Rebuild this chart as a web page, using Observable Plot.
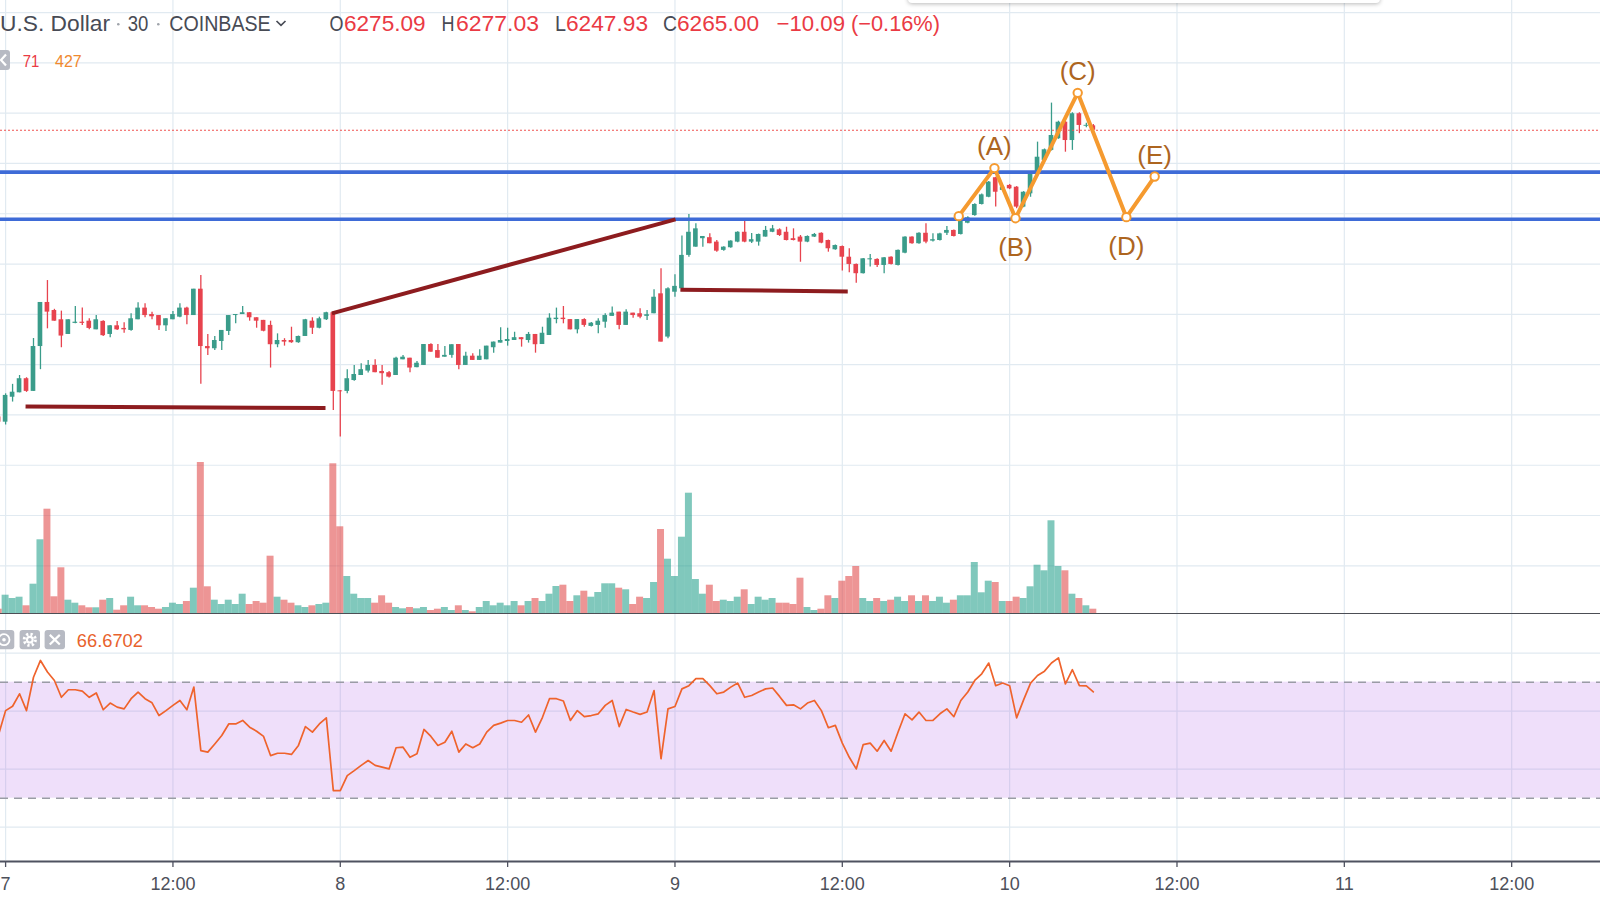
<!DOCTYPE html>
<html>
<head>
<meta charset="utf-8">
<script src="https://cdn.jsdelivr.net/npm/d3@7"></script>
<script src="https://cdn.jsdelivr.net/npm/@observablehq/plot@0.6"></script>
<style>
html,body{margin:0;padding:0;background:#fff;overflow:hidden;}
#wrap{position:relative;width:1600px;height:900px;overflow:hidden;background:#fff;font-family:"Liberation Sans",Arial,sans-serif;}
#wrap > svg, #wrap > div{position:absolute;left:0;}
</style>
</head>
<body>
<div id="wrap"></div>
<script>
// ---------------- DATA ----------------
const startTime = "2018-09-07T00:00:00Z";   // the "7" tick
const firstCandleHour = -0.5;                // first candle (partly off-screen)
const candleStepHours = 0.5;                 // 30-minute candles

const opens = [6124.0,
 6121.4,6133.8,6136.0,6143.0,6136.7,6159.0,6180.9,6176.9,6172.3,6165.0,
 6170.5,6171.1,6171.6,6167.3,6171.5,6165.0,6169.3,6168.0,6167.0,6172.3,
 6178.1,6174.9,6174.4,6169.3,6172.3,6173.6,6178.1,6174.4,6187.5,6159.0,
 6157.9,6161.5,6166.5,6174.4,6174.9,6175.8,6173.3,6172.0,6169.5,6159.9,
 6162.0,6162.0,6160.9,6164.0,6171.6,6168.1,6172.3,6175.8,6136.8,6136.7,
 6142.1,6144.6,6146.8,6149.6,6146.6,6146.0,6144.6,6152.4,6153.2,6148.5,
 6149.6,6160.0,6157.0,6153.7,6154.6,6160.0,6149.6,6154.2,6152.1,6152.4,
 6158.4,6160.7,6161.5,6162.0,6163.4,6162.0,6165.0,6160.0,6164.5,6172.4,
 6173.1,6172.4,6167.3,6172.4,6169.0,6169.5,6171.1,6174.0,6176.1,6169.5,
 6175.6,6175.3,6174.0,6175.3,6185.2,6163.7,6186.0,6187.7,6204.3,6208.4,
 6212.6,6213.1,6210.9,6206.8,6208.1,6210.9,6215.8,6210.9,6210.9,6213.4,
 6215.8,6217.0,6215.8,6212.6,6213.4,6210.9,6213.4,6215.3,6211.7,6207.1,
 6208.7,6203.4,6199.8,6195.2,6202.1,6202.3,6199.3,6203.4,6199.3,6205.4,
 6213.4,6210.1,6215.3,6211.4,6211.7,6215.3,6216.7,6214.7,6220.3,6224.1,
 6229.6,6233.2,6242.9,6236.6,6239.1,6238.2,6228.3,6234.9,6244.9,6251.5,
 6256.5,6262.3,6270.5,6261.4,6274.7,6268.5,6268.7];
const highs = [6126.0,
 6135.5,6140.2,6144.6,6143.5,6163.0,6180.9,6191.8,6177.5,6176.6,6172.3,
 6178.9,6178.1,6172.8,6174.4,6171.8,6169.5,6171.5,6170.8,6175.3,6180.8,
 6180.3,6176.1,6174.4,6172.8,6176.4,6180.3,6178.5,6187.5,6194.3,6165.0,
 6164.0,6167.0,6174.4,6174.9,6178.9,6175.8,6173.3,6172.0,6171.6,6165.3,
 6162.9,6168.6,6164.2,6172.5,6173.3,6173.6,6176.1,6176.1,6137.2,6147.5,
 6149.6,6150.4,6152.1,6152.4,6149.6,6146.6,6153.7,6154.6,6153.2,6151.6,
 6160.0,6160.4,6160.0,6159.0,6159.9,6160.0,6156.2,6155.4,6157.4,6159.2,
 6161.2,6168.3,6168.1,6166.1,6163.4,6166.0,6165.0,6168.6,6175.3,6178.1,
 6178.9,6172.4,6172.4,6172.8,6171.0,6172.8,6175.3,6178.6,6176.1,6177.3,
 6175.6,6177.8,6176.9,6187.2,6197.7,6188.2,6194.7,6214.0,6224.6,6220.0,
 6213.7,6215.0,6211.7,6208.6,6211.6,6216.0,6221.3,6215.2,6214.9,6218.7,
 6219.2,6217.5,6218.3,6217.5,6214.2,6214.0,6215.2,6215.5,6211.9,6209.5,
 6209.0,6207.6,6200.0,6202.8,6204.8,6202.6,6203.3,6203.6,6207.0,6213.6,
 6213.6,6215.6,6220.0,6215.0,6215.3,6218.7,6216.9,6222.3,6223.5,6230.0,
 6234.8,6241.0,6243.2,6239.0,6239.5,6238.5,6236.0,6245.2,6260.6,6257.2,
 6280.0,6271.0,6271.0,6275.2,6275.2,6270.0,6269.4];
const lows = [6119.0,
 6120.0,6131.4,6136.0,6136.2,6136.7,6147.5,6167.8,6171.6,6158.4,6165.0,
 6170.3,6169.5,6167.3,6167.3,6164.0,6163.4,6167.0,6165.6,6166.6,6172.3,
 6173.3,6172.3,6167.0,6166.5,6172.3,6173.3,6169.8,6174.4,6140.2,6154.6,
 6157.0,6157.0,6164.5,6170.3,6174.9,6171.6,6168.1,6166.3,6148.3,6158.4,
 6159.2,6160.6,6160.6,6164.0,6165.0,6167.8,6172.0,6127.2,6114.0,6135.5,
 6141.8,6144.6,6145.8,6146.0,6139.7,6143.3,6144.6,6152.4,6146.0,6148.5,
 6149.6,6156.2,6153.2,6153.7,6153.2,6147.5,6149.6,6152.1,6152.1,6152.4,
 6155.7,6160.7,6159.2,6162.0,6158.7,6160.7,6155.7,6160.0,6164.5,6170.3,
 6170.3,6167.3,6165.3,6168.6,6168.7,6165.3,6168.1,6174.0,6167.3,6169.5,
 6173.1,6172.8,6172.0,6175.3,6161.2,6162.9,6183.5,6187.7,6203.4,6208.4,
 6208.4,6210.1,6205.9,6206.4,6207.8,6210.6,6210.6,6210.2,6208.9,6213.4,
 6215.6,6213.7,6211.5,6211.5,6200.9,6210.6,6213.2,6210.1,6205.9,6206.9,
 6196.5,6195.7,6190.5,6195.0,6198.5,6198.3,6195.2,6199.5,6199.0,6205.1,
 6209.8,6209.8,6210.1,6210.9,6211.5,6214.2,6213.4,6214.5,6220.0,6223.8,
 6229.3,6232.9,6228.3,6236.0,6237.0,6227.5,6228.0,6233.2,6244.6,6251.2,
 6256.2,6262.0,6255.6,6256.5,6264.8,6267.7,6265.9];
const closes = [6121.4,
 6134.7,6136.3,6143.0,6136.7,6159.0,6180.9,6176.1,6171.6,6164.2,6172.3,
 6171.1,6170.5,6168.0,6172.3,6164.4,6169.3,6167.3,6167.3,6172.8,6178.1,
 6174.4,6173.8,6169.3,6172.8,6174.9,6178.1,6174.4,6187.5,6159.0,6157.9,
 6162.0,6167.0,6174.4,6174.9,6175.8,6173.3,6171.6,6166.6,6159.9,6162.0,
 6161.2,6160.9,6164.0,6172.3,6168.1,6172.8,6175.8,6136.7,6136.5,6143.0,
 6145.1,6147.5,6149.6,6146.0,6145.5,6143.8,6153.2,6153.7,6148.3,6150.7,
 6160.0,6156.2,6153.2,6154.6,6159.9,6149.6,6154.2,6152.1,6154.2,6159.2,
 6161.2,6162.0,6162.5,6163.4,6162.4,6165.0,6159.9,6165.6,6173.1,6173.1,
 6172.4,6167.3,6172.4,6169.5,6170.6,6171.6,6174.4,6175.6,6169.5,6176.1,
 6174.4,6173.6,6174.8,6183.5,6161.2,6187.7,6188.9,6204.3,6215.8,6217.5,
 6213.7,6210.1,6206.4,6208.4,6211.4,6215.8,6210.9,6212.1,6214.7,6216.7,
 6217.5,6214.2,6211.7,6211.7,6210.9,6213.7,6214.7,6210.4,6207.6,6209.2,
 6203.4,6199.8,6195.2,6202.6,6202.6,6199.3,6203.1,6199.8,6206.8,6213.4,
 6210.1,6215.3,6210.9,6212.1,6215.0,6216.7,6213.7,6222.0,6223.0,6229.6,
 6234.4,6240.7,6235.7,6238.2,6237.4,6228.3,6235.7,6244.9,6253.1,6256.8,
 6263.9,6270.5,6261.4,6274.7,6268.9,6268.9,6266.5];
const volumes = [43,
 183,150,163,77,293,737,1043,167,457,133,
 103,77,57,57,133,150,33,77,163,77,
 77,60,43,60,103,90,120,253,1510,267,
 133,90,133,90,193,90,120,103,573,163,
 133,103,77,60,77,90,103,1497,867,370,
 193,150,150,103,177,103,60,47,60,47,
 60,30,43,60,30,77,30,17,60,120,
 77,103,77,120,77,120,150,120,193,270,
 283,120,177,223,163,210,297,297,253,237,
 90,163,150,310,840,543,370,763,1203,340,
 193,283,120,133,120,163,237,90,163,133,
 150,103,103,90,353,60,30,43,177,150,
 323,370,470,150,120,150,120,133,163,120,
 177,120,177,120,163,103,133,177,177,510,
 207,323,310,120,120,163,150,267,483,427,
 927,470,427,193,150,77,43];
const rsiValues = [52.0,
 60.2,61.7,66.0,60.2,71.7,77.5,73.5,70.6,64.8,67.4,
 67.4,66.9,64.8,66.3,60.5,62.8,61.4,60.8,64.3,66.6,
 64.3,62.9,58.5,60.2,62.0,63.7,60.5,68.3,46.4,45.9,
 48.7,51.6,55.6,55.6,56.8,54.5,53.1,51.3,44.7,45.5,
 45.5,45.1,48.2,54.7,52.8,55.6,57.7,32.6,32.6,37.8,
 39.5,41.3,43.0,41.3,40.7,40.1,47.4,47.6,44.1,45.3,
 53.7,51.3,48.2,49.3,53.1,45.9,48.7,47.4,48.7,52.8,
 55.1,55.9,56.8,56.8,56.2,58.7,52.8,57.9,64.3,64.3,
 63.5,56.8,60.2,58.1,58.5,59.1,62.0,63.7,54.7,60.6,
 59.7,58.9,59.7,67.1,43.6,60.8,61.6,67.7,68.8,71.2,
 71.2,68.8,66.0,66.6,68.3,69.7,64.8,65.4,66.6,67.7,
 68.0,65.1,62.0,62.2,60.8,62.8,63.7,60.2,54.3,55.1,
 49.0,44.1,40.1,48.5,49.0,46.2,49.9,46.2,52.8,59.1,
 57.0,59.7,56.8,56.8,59.1,60.8,58.1,63.7,66.6,70.6,
 72.9,76.6,68.8,69.7,68.8,57.7,63.9,69.7,72.3,73.8,
 76.6,78.4,69.4,74.3,68.8,68.7,66.67];

// horizontal drawings
const levelPrices = [6245.7, 6222.3];           // blue lines
const trendStartHours = [1.43, 23.40, 48.39];    // dark red lines
const trendStartPrices = [6129.2, 6175.5, 6187.2];
const trendEndHours = [22.94, 48.04, 60.39];
const trendEndPrices = [6128.4, 6222.2, 6186.4];
// orange ABCDE pattern
const patternHours = [68.35, 70.91, 72.42, 76.88, 80.37, 82.40];
const patternPrices = [6223.8, 6247.7, 6222.8, 6285.1, 6223.3, 6243.5];
const patternLabels = ["", "(A)", "(B)", "(C)", "(D)", "(E)"];
const patternLabelSide = ["", "above", "below", "above", "below", "above"];
// scales / ticks
const priceGrid = [6050, 6075, 6100, 6125, 6150, 6175, 6200, 6225, 6250, 6275, 6300, 6325];
const rsiGrid = [20, 40, 60, 80];
const rsiBand = [30, 70];
const timeTickHours = [0, 12, 24, 36, 48, 60, 72, 84, 96, 108];
const viewHours = [-0.366, 114.37];
const priceDomain = [6026.3, 6331];
const volumeDomain = [0, 6130];
const rsiDomain = [8.52, 93.34];

// ---------------- STYLE ----------------
const FONT = "Liberation Sans, Arial, sans-serif";
const GRID = "#e1eaf1";
const UP = "#3a9c8a", DOWN = "#e7434e";
const VUP = "#24a08c", VDOWN = "#e04848";
const BLUE = "#3e6bd7", DARKRED = "#8d1c1f", ORANGE = "#f59a2f", LABEL = "#ad651f";
const RSI = "#ef632c", BAND = "#b061e8", DASH = "#9a9ca5", AXIS = "#4f5260";
const W = 1600;

// ---------------- BUILD ----------------
const t0 = new Date(startTime).getTime();
const at = h => new Date(t0 + h * 3600e3);
const xScale = {type: "utc", domain: viewHours.map(at), axis: null};
const candles = opens.map((o, i) => {
  const h = firstCandleHour + i * candleStepHours;
  return {h, t: at(h), o, hi: highs[i], lo: lows[i], c: closes[i], v: volumes[i], r: rsiValues[i], up: closes[i] >= o};
});
const upC = candles.filter(d => d.up), dnC = candles.filter(d => !d.up);
const bodyHalf = 10 / 60, volHalf = 0.25;
const bLo = d => Math.min(d.o, d.c);
const bHi = d => Math.max(d.o, d.c, Math.min(d.o, d.c) + 0.45);
const tickDates = timeTickHours.map(at);
const trendRows = trendStartHours.map((h, i) => ({x1: at(h), y1: trendStartPrices[i], x2: at(trendEndHours[i]), y2: trendEndPrices[i]}));
const pattern = patternHours.map((h, i) => ({t: at(h), p: patternPrices[i], label: patternLabels[i], side: patternLabelSide[i]}));
const lastClose = closes[closes.length - 1];

const wrap = document.getElementById("wrap");
function place(el, top) { el.style.top = top + "px"; el.style.position = "absolute"; el.style.left = "0px"; wrap.appendChild(el); }

const candleMarks = (data, color) => [
  Plot.ruleX(data, {x: "t", y1: "lo", y2: "hi", stroke: color, strokeWidth: 1.3}),
  Plot.rect(data, {x1: d => at(d.h - bodyHalf), x2: d => at(d.h + bodyHalf), y1: bLo, y2: bHi, fill: color})
];

const pricePlot = Plot.plot({
  width: W, height: 613, marginTop: 0, marginRight: 0, marginBottom: 0, marginLeft: 0,
  x: xScale, y: {domain: priceDomain, axis: null},
  style: {background: "#fff", overflow: "visible", fontFamily: FONT},
  marks: [
    Plot.ruleY(priceGrid, {stroke: GRID, strokeWidth: 1.2}),
    Plot.ruleX(tickDates, {stroke: GRID, strokeWidth: 1.2}),
    ...candleMarks(upC, UP),
    ...candleMarks(dnC, DOWN),
    Plot.ruleY([lastClose], {stroke: "#ef5350", strokeWidth: 1, strokeDasharray: "2,2"}),
    Plot.ruleY(levelPrices, {stroke: BLUE, strokeWidth: 3.6}),
    Plot.link(trendRows, {x1: "x1", y1: "y1", x2: "x2", y2: "y2", stroke: DARKRED, strokeWidth: 4}),
    Plot.line(pattern, {x: "t", y: "p", stroke: ORANGE, strokeWidth: 4}),
    Plot.dot(pattern, {x: "t", y: "p", r: 4.2, fill: "#fff", stroke: ORANGE, strokeWidth: 2}),
    Plot.text(pattern.filter(d => d.side === "above"), {x: "t", y: "p", text: "label", dy: -21, fill: LABEL, fontSize: 26, fontFamily: FONT}),
    Plot.text(pattern.filter(d => d.side === "below"), {x: "t", y: "p", text: "label", dy: 29.5, fill: LABEL, fontSize: 26, fontFamily: FONT})
  ]
});
place(pricePlot, 0);

const volPlot = Plot.plot({
  width: W, height: 613, marginTop: 0, marginRight: 0, marginBottom: 0, marginLeft: 0,
  x: xScale, y: {domain: volumeDomain, axis: null},
  style: {background: "transparent", overflow: "visible"},
  marks: [
    Plot.rect(upC, {x1: d => at(d.h - volHalf), x2: d => at(d.h + volHalf), y1: 0, y2: "v", fill: VUP, fillOpacity: 0.58}),
    Plot.rect(dnC, {x1: d => at(d.h - volHalf), x2: d => at(d.h + volHalf), y1: 0, y2: "v", fill: VDOWN, fillOpacity: 0.58})
  ]
});
place(volPlot, 0);

const sep = document.createElement("div");
sep.style.cssText = "width:1600px;height:1.6px;background:#4c4e55;";
place(sep, 612.6);

const rsiPlot = Plot.plot({
  width: W, height: 246, marginTop: 0, marginRight: 0, marginBottom: 0, marginLeft: 0,
  x: xScale, y: {domain: rsiDomain, axis: null},
  style: {background: "transparent", overflow: "visible"},
  marks: [
    Plot.ruleY(rsiGrid, {stroke: GRID, strokeWidth: 1.2}),
    Plot.ruleX(tickDates, {stroke: GRID, strokeWidth: 1.2}),
    Plot.rect([rsiBand], {x1: () => at(viewHours[0]), x2: () => at(viewHours[1]), y1: d => d[0], y2: d => d[1], fill: BAND, fillOpacity: 0.2}),
    Plot.ruleY(rsiBand, {stroke: DASH, strokeWidth: 1.4, strokeDasharray: "8,6"}),
    Plot.line(candles, {x: "t", y: "r", stroke: RSI, strokeWidth: 1.7})
  ]
});
place(rsiPlot, 614);

const axisPlot = Plot.plot({
  width: W, height: 40, marginTop: 0, marginRight: 0, marginBottom: 0, marginLeft: 0,
  x: xScale, y: {domain: [0, 40], range: [0, 40], axis: null},
  style: {background: "transparent", overflow: "visible", fontFamily: FONT},
  marks: [
    Plot.ruleY([1], {stroke: AXIS, strokeWidth: 2}),
    Plot.ruleX(tickDates, {y1: 1, y2: 7, stroke: AXIS, strokeWidth: 1.3}),
    Plot.text(tickDates, {x: d => d, y: 23.5, text: d => d.getUTCHours() === 0 ? String(d.getUTCDate()) : "12:00",
      fill: "#4d505a", fontSize: 18, fontFamily: FONT})
  ]
});
place(axisPlot, 860);

// toolbar shadow at the top edge
const bar = document.createElement("div");
bar.style.cssText = "width:472px;height:22px;background:#fff;border-radius:4px;box-shadow:0 1px 4px rgba(0,0,0,0.28);";
wrap.appendChild(bar); bar.style.position = "absolute"; bar.style.top = "-19px"; bar.style.left = "908px";

// header / legend text overlay
const RED = "#ea3a44";
const DARK = "#484b55";
const ns = "http://www.w3.org/2000/svg";
const ov = document.createElementNS(ns, "svg");
ov.setAttribute("width", 1600); ov.setAttribute("height", 900);
ov.style.cssText = "position:absolute;left:0;top:0;pointer-events:none;font-family:" + FONT;
function txt(s, x, y, size, fill, len) {
  const t = document.createElementNS(ns, "text");
  t.setAttribute("x", x); t.setAttribute("y", y); t.setAttribute("font-size", size); t.setAttribute("fill", fill);
  if (len) { t.setAttribute("textLength", len); t.setAttribute("lengthAdjust", "spacingAndGlyphs"); }
  t.textContent = s; ov.appendChild(t);
}
function el(tag, attrs) { const e = document.createElementNS(ns, tag); for (const k in attrs) e.setAttribute(k, attrs[k]); ov.appendChild(e); return e; }
const HB = 31.2;
txt("U.S. Dollar", 0, HB, 22, DARK, 110);
el("circle", {cx: 118.3, cy: 24.3, r: 1.3, fill: "#a0a4ab"});
txt("30", 127.7, HB, 22, DARK, 20.6);
el("circle", {cx: 158.3, cy: 24.3, r: 1.3, fill: "#a0a4ab"});
txt("COINBASE", 169.3, HB, 22, DARK, 101.4);
el("path", {d: "M276.5,21 L281,25.3 L285.5,21", stroke: DARK, "stroke-width": 1.7, fill: "none"});
txt("O", 329.5, HB, 22, DARK, 14);
txt("6275.09", 344, HB, 22, RED, 81.6);
txt("H", 441.5, HB, 22, DARK, 13);
txt("6277.03", 456, HB, 22, RED, 83);
txt("L", 555, HB, 22, DARK, 11);
txt("6247.93", 566, HB, 22, RED, 82);
txt("C", 663, HB, 22, DARK, 14);
txt("6265.00", 677, HB, 22, RED, 82);
txt("\u221210.09", 776.5, HB, 22, RED, 68.5);
txt("(\u22120.16%)", 851, HB, 22, RED, 89);
// volume legend line
el("rect", {x: -8, y: 50, width: 18, height: 20, rx: 3, fill: "#b7bac3"});
el("path", {d: "M6,54.5 L1,60 L6,65.5", stroke: "#fff", "stroke-width": 2.2, fill: "none"});
txt("71", 22.7, 66.7, 17, RED, 16.6);
txt("427", 55, 66.7, 17, "#f0892f", 26.7);
// RSI legend
el("rect", {x: -6, y: 630, width: 20.3, height: 19.3, rx: 3, fill: "#b7bac3"});
el("circle", {cx: 4, cy: 639.7, r: 5.5, fill: "none", stroke: "#fff", "stroke-width": 1.8});
el("circle", {cx: 4, cy: 639.7, r: 1.8, fill: "#fff"});
el("rect", {x: 19.6, y: 630, width: 20.4, height: 19.3, rx: 3, fill: "#b7bac3"});
el("circle", {cx: 29.8, cy: 639.7, r: 5.6, fill: "none", stroke: "#fff", "stroke-width": 3, "stroke-dasharray": "2.2,2.2"});
el("circle", {cx: 29.8, cy: 639.7, r: 3.9, fill: "#fff"});
el("circle", {cx: 29.8, cy: 639.7, r: 1.8, fill: "#b7bac3"});
el("rect", {x: 44.6, y: 630, width: 20.4, height: 19.3, rx: 3, fill: "#b7bac3"});
el("path", {d: "M49.8,634.9 L59.8,644.5 M59.8,634.9 L49.8,644.5", stroke: "#fff", "stroke-width": 2.2, fill: "none"});
txt("66.6702", 76.8, 646.7, 18.5, "#e8622c", 66.2);
wrap.appendChild(ov);
</script>
</body>
</html>
